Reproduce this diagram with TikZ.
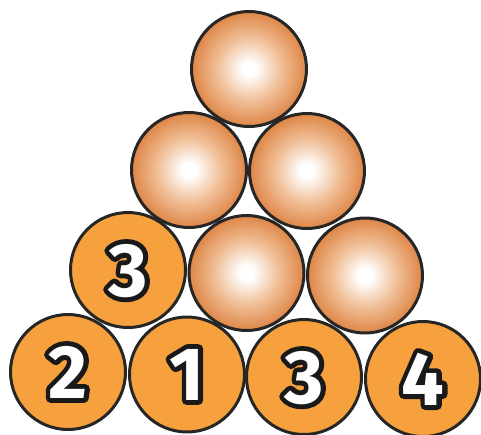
\documentclass[tikz,border=0pt]{standalone}
\usepackage{fontspec}
\setmainfont{Fira Sans}
\definecolor{ballorange}{RGB}{247,161,62}
\definecolor{ballshade}{RGB}{222,134,70}
\definecolor{ballmid}{RGB}{240,190,150}
\pgfdeclareradialshading{ballglow}{\pgfpoint{0bp}{0bp}}{color(0bp)=(white); color(3bp)=(white); color(14bp)=(ballmid); color(25bp)=(ballshade); color(50bp)=(ballshade)}
\tikzset{
    ball/.style={circle,draw=black!85,line width=1.7pt,minimum size=2.3cm,inner sep=0pt},
    plain/.style={ball,fill=ballorange},
    shiny/.style={ball,shading=ballglow},
    num/.style={font=\fontsize{43}{43}\selectfont\bfseries,text depth=-4pt}
}
% black stroked copy under a white one
\newcommand{\ballnum}[1]{\rlap{\color{black!90}\special{pdf:literal direct 2 Tr 5.5 w 1 j 1 J}#1\special{pdf:literal direct 0 Tr}}\textcolor{white}{#1}}
\begin{document}
\begin{tikzpicture}[x=0.02cm,y=-0.02cm]
    \useasboundingbox (0,0) rectangle (481,434);
    % top rows
    \node[shiny] (top) at (249,69) {};
    \node[shiny] (l2a) at (189,170) {};
    \node[shiny] (l2b) at (307,171) {};
    % third row
    \node[plain,num] (l3a) at (128,270) {\ballnum{3}};
    \node[shiny] (l3b) at (246.5,273) {};
    \node[shiny] (l3c) at (365,275.5) {};
    % bottom row
    \node[plain,num] (l4a) at (68,372) {\ballnum{2}};
    \node[plain,num] (l4b) at (187,374.5) {\ballnum{1}};
    \node[plain,num] (l4c) at (304,377) {\ballnum{3}};
    \node[plain,num] (l4d) at (423,379) {\ballnum{4}};
\end{tikzpicture}
\end{document}
